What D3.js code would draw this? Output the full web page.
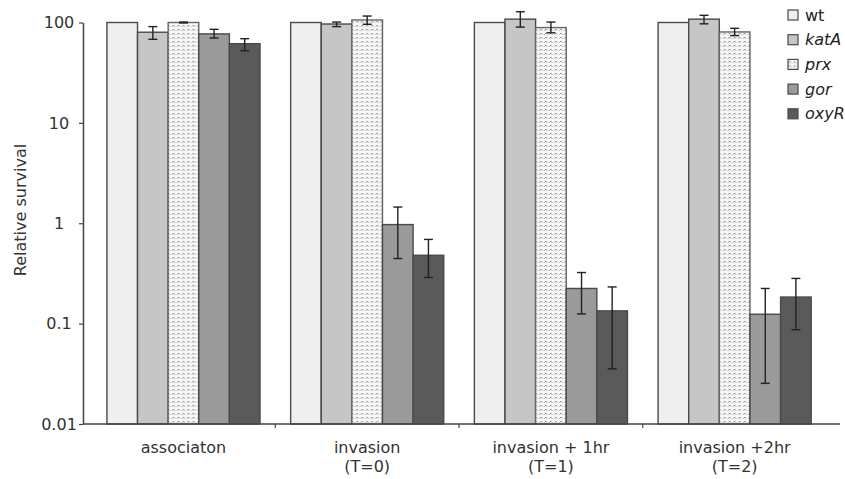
<!DOCTYPE html>
<html>
<head>
<meta charset="utf-8">
<script src="https://cdn.jsdelivr.net/npm/d3@7"></script>
<style>
  body { margin: 0; background: #fff; }
  svg { display: block; font-family: "DejaVu Sans", sans-serif; }
</style>
</head>
<body>
<div id="chart"></div>
<script>
// data
const categories = ["associaton", "invasion (T=0)", "invasion + 1hr (T=1)", "invasion +2hr (T=2)"];
const categoryLines = [["associaton"], ["invasion", "(T=0)"], ["invasion + 1hr", "(T=1)"], ["invasion +2hr", "(T=2)"]];
const strains = ["wt", "katA", "prx", "gor", "oxyR"];

const wtValues = [100, 100, 100, 100];
const katAValues = [80, 96.6, 108, 108];
const prxValues = [100, 106, 89, 80.5];
const gorValues = [77, 0.97, 0.224, 0.124];
const oxyRValues = [61.5, 0.48, 0.134, 0.184];

// error bars (low, high); wt has none
const katALow = [68, 91, 90, 97];
const katAHigh = [91, 101, 128, 118];
const prxLow = [99, 96, 79, 74];
const prxHigh = [101, 116, 101, 87.5];
const gorLow = [70, 0.445, 0.125, 0.0254];
const gorHigh = [85.5, 1.45, 0.323, 0.224];
const oxyRLow = [52.4, 0.288, 0.0354, 0.087];
const oxyRHigh = [69, 0.69, 0.232, 0.282];

const yTicks = [100, 10, 1, 0.1, 0.01];
const yTickLabels = ["100", "10", "1", "0.1", "0.01"];

const seriesValues = [wtValues, katAValues, prxValues, gorValues, oxyRValues];
const seriesLow = [null, katALow, prxLow, gorLow, oxyRLow];
const seriesHigh = [null, katAHigh, prxHigh, gorHigh, oxyRHigh];
const fills = ["#efefef", "#c6c6c6", "url(#prx)", "#9a9a9a", "#5a5a5a"];

const width = 845, height = 479;
const axisX = 83;

const svg = d3.select("#chart").append("svg")
    .attr("width", width)
    .attr("height", height);

// dotted / wavy fill for prx
const pat = svg.append("defs").append("pattern")
    .attr("id", "prx")
    .attr("patternUnits", "userSpaceOnUse")
    .attr("width", 5)
    .attr("height", 4);
pat.append("rect").attr("width", 5).attr("height", 4).attr("fill", "#f7f7f7");
pat.append("path")
    .attr("d", "M0.5,2.5 L1.8,1.2 L3.1,2.5")
    .attr("stroke", "#7a7a7a")
    .attr("stroke-width", 1)
    .attr("fill", "none");

const x0 = d3.scaleBand().domain(categories).range([91.6, 826.5]);
const x1 = d3.scaleBand().domain(strains).range([0, x0.bandwidth()]).paddingInner(0).paddingOuter(0.5);
const y = d3.scaleLog().domain([0.01, 100]).range([424, 22.5]);

// bars
const groups = svg.selectAll("g.group")
    .data(categories)
    .enter()
    .append("g")
    .attr("class", "group")
    .attr("transform", d => `translate(${x0(d)},0)`);

strains.forEach((s, si) => {
    groups.append("rect")
        .attr("x", x1(s))
        .attr("y", (d, ci) => y(seriesValues[si][ci]))
        .attr("width", x1.bandwidth())
        .attr("height", (d, ci) => y(0.01) - y(seriesValues[si][ci]))
        .attr("fill", fills[si])
        .attr("stroke", si === 2 ? "#666" : "#4a4a4a")
        .attr("stroke-width", 1.4);
});

// error bars
strains.forEach((s, si) => {
    if (!seriesLow[si]) return;
    const cx = x1(s) + x1.bandwidth() / 2;
    const eb = groups.append("g").attr("class", "err")
        .attr("stroke", "#222")
        .attr("stroke-width", 1.4);
    eb.append("line")
        .attr("x1", cx).attr("x2", cx)
        .attr("y1", (d, ci) => y(seriesLow[si][ci]))
        .attr("y2", (d, ci) => y(seriesHigh[si][ci]));
    eb.append("line")
        .attr("x1", cx - 4.5).attr("x2", cx + 4.5)
        .attr("y1", (d, ci) => y(seriesLow[si][ci]))
        .attr("y2", (d, ci) => y(seriesLow[si][ci]));
    eb.append("line")
        .attr("x1", cx - 4.5).attr("x2", cx + 4.5)
        .attr("y1", (d, ci) => y(seriesHigh[si][ci]))
        .attr("y2", (d, ci) => y(seriesHigh[si][ci]));
});

// y axis
const yAxis = svg.append("g")
    .attr("transform", `translate(${axisX},0)`)
    .call(d3.axisLeft(y).tickValues(yTicks).tickFormat((d, i) => yTickLabels[i]).tickSize(4).tickSizeOuter(0));
yAxis.select(".domain").attr("stroke", "#444").attr("stroke-width", 1.5);
yAxis.selectAll(".tick line").attr("stroke", "#444").attr("stroke-width", 1.2);
yAxis.selectAll(".tick text")
    .attr("x", -24)
    .attr("text-anchor", "middle")
    .attr("fill", "#333")
    .style("font-size", "16px")
    .style("font-family", "DejaVu Sans, sans-serif");

// x axis baseline and boundary ticks
svg.append("line")
    .attr("x1", axisX).attr("x2", 840)
    .attr("y1", y(0.01)).attr("y2", y(0.01))
    .attr("stroke", "#444").attr("stroke-width", 1.5);

svg.selectAll("line.xtick")
    .data(categories.slice(1))
    .enter()
    .append("line")
    .attr("class", "xtick")
    .attr("x1", d => x0(d)).attr("x2", d => x0(d))
    .attr("y1", y(0.01)).attr("y2", y(0.01) + 4)
    .attr("stroke", "#444").attr("stroke-width", 1.2);

// category labels
const xl = svg.selectAll("text.xlab")
    .data(categories)
    .enter()
    .append("text")
    .attr("class", "xlab")
    .attr("text-anchor", "middle")
    .attr("fill", "#333")
    .style("font-size", "16px")
    .attr("transform", d => `translate(${x0(d) + x0.bandwidth() / 2},453)`);
xl.each(function (d, i) {
    const t = d3.select(this);
    categoryLines[i].forEach((line, li) => {
        t.append("tspan").attr("x", 0).attr("y", li * 19).text(line);
    });
});

// y title
svg.append("text")
    .attr("transform", "translate(26,210) rotate(-90)")
    .attr("text-anchor", "middle")
    .attr("fill", "#333")
    .style("font-size", "16px")
    .text("Relative survival");

// legend
const legend = svg.append("g").attr("transform", "translate(788,15)");
const li = legend.selectAll("g")
    .data(strains)
    .enter()
    .append("g")
    .attr("transform", (d, i) => `translate(0,${i * 24.7})`);
li.append("rect")
    .attr("x", 0).attr("y", -5)
    .attr("width", 10).attr("height", 10)
    .attr("fill", (d, i) => fills[i])
    .attr("stroke", "#4a4a4a")
    .attr("stroke-width", 1.2);
li.append("text")
    .attr("x", 17).attr("y", 5.5)
    .attr("fill", "#222")
    .style("font-size", "16px")
    .style("font-style", d => d === "wt" ? "normal" : "italic")
    .text(d => d);
</script>
</body>
</html>
